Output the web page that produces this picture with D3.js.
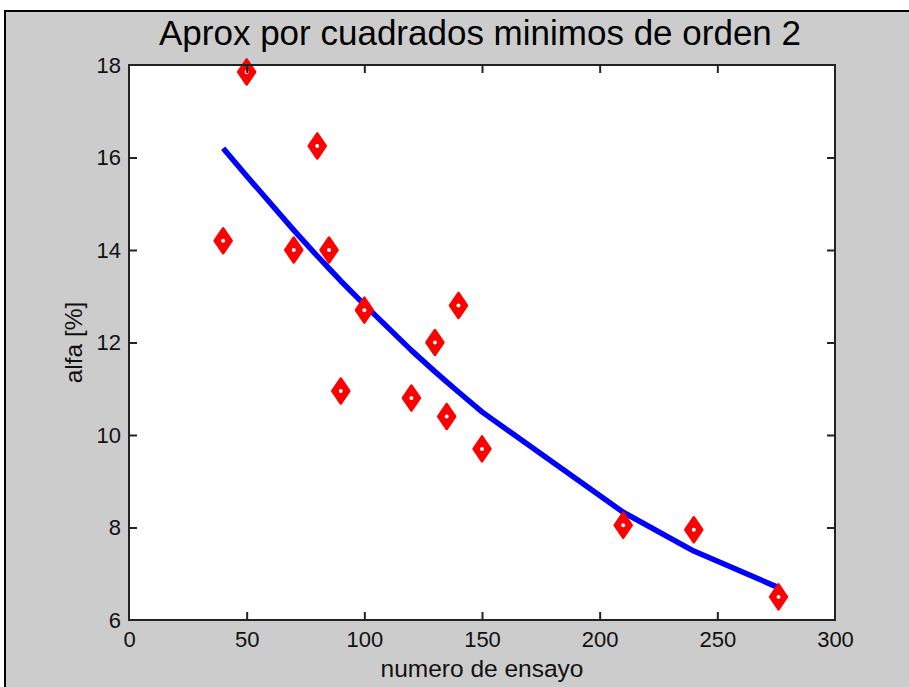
<!DOCTYPE html>
<html>
<head>
<meta charset="utf-8">
<script src="https://cdn.jsdelivr.net/npm/d3@7"></script>
<style>
  html, body { margin: 0; padding: 0; background: #ffffff; }
  svg { display: block; }
  text { font-family: "Liberation Sans", Arial, sans-serif; }
</style>
</head>
<body>
<svg id="chart" width="909" height="687"></svg>
<script>
// ---- data ----
const title = "Aprox por cuadrados minimos de orden 2";
const xLabel = "numero de ensayo";
const yLabel = "alfa [%]";
const ensayo = [40, 50, 70, 80, 85, 90, 100, 120, 130, 135, 140, 150, 210, 240, 276];
const alfa   = [14.2, 17.85, 14.0, 16.25, 14.0, 10.95, 12.7, 10.8, 12.0, 10.4, 12.8, 9.7, 8.05, 7.95, 6.5];
const ajuste = [16.2, 15.6, 14.43, 13.87, 13.6, 13.33, 12.82, 11.83, 11.37, 11.15, 10.93, 10.5, 8.33, 7.49, 6.7];
const xTicks = [0, 50, 100, 150, 200, 250, 300];
const yTicks = [6, 8, 10, 12, 14, 16, 18];

const svg = d3.select("#chart");
const W = 909, H = 687;
const plot = { left: 129, right: 835, top: 65, bottom: 620 };

// figure background with black top/left border
svg.append("rect").attr("x", 5).attr("y", 11).attr("width", W - 5).attr("height", H - 11).attr("fill", "#cccccc");
svg.append("line").attr("x1", 5).attr("y1", 11).attr("x2", W).attr("y2", 11).attr("stroke", "#000").attr("stroke-width", 2);
svg.append("line").attr("x1", 5).attr("y1", 10).attr("x2", 5).attr("y2", H).attr("stroke", "#000").attr("stroke-width", 2);

const x = d3.scaleLinear().domain([0, 300]).range([plot.left, plot.right]);
const y = d3.scaleLinear().domain([6, 18]).range([plot.bottom, plot.top]);

// plot area
svg.append("rect").attr("x", plot.left).attr("y", plot.top)
  .attr("width", plot.right - plot.left).attr("height", plot.bottom - plot.top)
  .attr("fill", "#ffffff");

// fitted curve
const line = d3.line().x((d, i) => x(ensayo[i])).y(d => y(d));
svg.append("path").datum(ajuste).attr("d", line)
  .attr("fill", "none").attr("stroke", "#0000ff").attr("stroke-width", 5.5)
  .attr("stroke-linejoin", "round");

// markers (red diamonds)
const mk = svg.append("g");
ensayo.forEach((xv, i) => {
  const cx = x(xv), cy = y(alfa[i]);
  const hw = 8.5, hh = 12.5;
  mk.append("path")
    .attr("d", `M${cx},${cy - hh}L${cx + hw},${cy}L${cx},${cy + hh}L${cx - hw},${cy}Z`)
    .attr("fill", "#ff0000").attr("stroke", "#ff0000").attr("stroke-width", 2.5)
    .attr("stroke-linejoin", "round");
  mk.append("circle").attr("cx", cx).attr("cy", cy).attr("r", 2).attr("fill", "#ffffff");
});

// axes
const axColor = "#222";
function styleAxis(g, showLabels) {
  g.select(".domain").remove();
  g.selectAll(".tick line").attr("stroke", axColor).attr("stroke-width", 2);
  g.selectAll(".tick text").attr("fill", "#111").style("font-size", "22px")
    .style("font-family", '"Liberation Sans", Arial, sans-serif');
  if (!showLabels) g.selectAll(".tick text").remove();
}
const xb = svg.append("g").attr("transform", `translate(0,${plot.bottom})`)
  .call(d3.axisBottom(x).tickValues(xTicks).tickSize(-8).tickPadding(12).tickFormat(d3.format("d")));
styleAxis(xb, true);
xb.selectAll(".tick text").attr("dy", "0.71em").attr("y", 11);
xb.selectAll(".tick").filter(d => d === 0 || d === 300).select("line").remove();

const xt = svg.append("g").attr("transform", `translate(0,${plot.top})`)
  .call(d3.axisTop(x).tickValues(xTicks).tickSize(-8));
styleAxis(xt, false);
xt.selectAll(".tick").filter(d => d === 0 || d === 300).select("line").remove();

const yl = svg.append("g").attr("transform", `translate(${plot.left},0)`)
  .call(d3.axisLeft(y).tickValues(yTicks).tickSize(-8).tickPadding(8).tickFormat(d3.format("d")));
styleAxis(yl, true);
yl.selectAll(".tick").filter(d => d === 6 || d === 18).select("line").remove();

const yr = svg.append("g").attr("transform", `translate(${plot.right},0)`)
  .call(d3.axisRight(y).tickValues(yTicks).tickSize(-8));
styleAxis(yr, false);
yr.selectAll(".tick").filter(d => d === 6 || d === 18).select("line").remove();

// box
svg.append("rect").attr("x", plot.left).attr("y", plot.top)
  .attr("width", plot.right - plot.left).attr("height", plot.bottom - plot.top)
  .attr("fill", "none").attr("stroke", axColor).attr("stroke-width", 2);

// title & labels
svg.append("text").attr("x", (plot.left + plot.right) / 2 - 2).attr("y", 45)
  .attr("text-anchor", "middle").style("font-size", "35px").attr("fill", "#000").text(title);
svg.append("text").attr("x", (plot.left + plot.right) / 2).attr("y", 677)
  .attr("text-anchor", "middle").style("font-size", "24.5px").attr("fill", "#111").text(xLabel);
svg.append("text").attr("transform", `translate(82,${(plot.top + plot.bottom) / 2}) rotate(-90)`)
  .attr("text-anchor", "middle").style("font-size", "24.5px").attr("fill", "#111").text(yLabel);
</script>
</body>
</html>
